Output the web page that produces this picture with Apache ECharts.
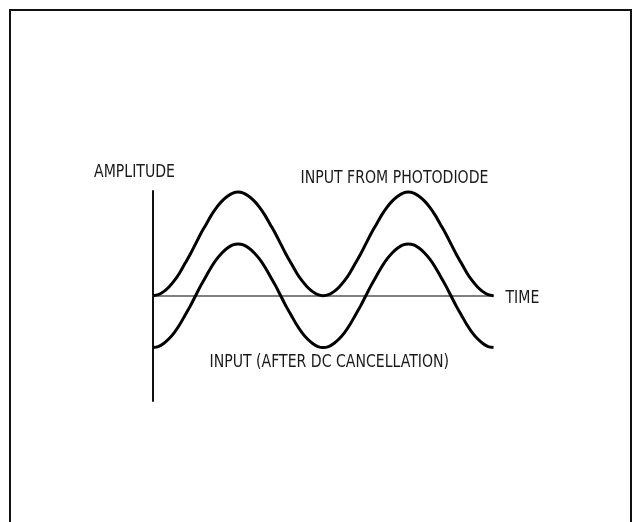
<!DOCTYPE html>
<html>
<head>
<meta charset="utf-8">
<script src="https://cdn.jsdelivr.net/npm/echarts@6/dist/echarts.min.js"></script>
<style>html,body{margin:0;padding:0;background:#fff}#c{width:633px;height:522px}</style>
</head>
<body>
<div id="c"></div>
<script>
// Time positions (quarter-period units)
var timeValues = [0,0.0625,0.125,0.1875,0.25,0.3125,0.375,0.4375,0.5,0.5625,0.625,0.6875,0.75,0.8125,0.875,0.9375,
  1,1.0625,1.125,1.1875,1.25,1.3125,1.375,1.4375,1.5,1.5625,1.625,1.6875,1.75,1.8125,1.875,1.9375,
  2,2.0625,2.125,2.1875,2.25,2.3125,2.375,2.4375,2.5,2.5625,2.625,2.6875,2.75,2.8125,2.875,2.9375,
  3,3.0625,3.125,3.1875,3.25,3.3125,3.375,3.4375,3.5,3.5625,3.625,3.6875,3.75,3.8125,3.875,3.9375,4];
// Input from photodiode
var photodiodeValues = [0,0.02,0.08,0.17,0.29,0.44,0.62,0.80,1.0,1.20,1.38,1.56,1.71,1.83,1.92,1.98,
  2.0,1.98,1.92,1.83,1.71,1.56,1.38,1.20,1.0,0.80,0.62,0.44,0.29,0.17,0.08,0.02,
  0,0.02,0.08,0.17,0.29,0.44,0.62,0.80,1.0,1.20,1.38,1.56,1.71,1.83,1.92,1.98,
  2.0,1.98,1.92,1.83,1.71,1.56,1.38,1.20,1.0,0.80,0.62,0.44,0.29,0.17,0.08,0.02,0];
// Input after DC cancellation
var cancelledValues = [-1.0,-0.98,-0.92,-0.83,-0.71,-0.56,-0.38,-0.20,0,0.20,0.38,0.56,0.71,0.83,0.92,0.98,
  1.0,0.98,0.92,0.83,0.71,0.56,0.38,0.20,0,-0.20,-0.38,-0.56,-0.71,-0.83,-0.92,-0.98,
  -1.0,-0.98,-0.92,-0.83,-0.71,-0.56,-0.38,-0.20,0,0.20,0.38,0.56,0.71,0.83,0.92,0.98,
  1.0,0.98,0.92,0.83,0.71,0.56,0.38,0.20,0,-0.20,-0.38,-0.56,-0.71,-0.83,-0.92,-0.98,-1.0];
var labels = {amplitude:'AMPLITUDE', time:'TIME', photodiode:'INPUT FROM PHOTODIODE', cancelled:'INPUT (AFTER DC CANCELLATION)'};

function pairs(xs, ys){ return xs.map(function(x,i){return [x, ys[i]];}); }

var chart = echarts.init(document.getElementById('c'), null, {renderer:'canvas'});
var font = '"Liberation Sans Narrow", "DejaVu Sans Condensed", sans-serif';
var txt = function(t, x, y){
  return {type:'text', x:x, y:y, scaleX:0.895, scaleY:1, style:{text:t, fill:'#1a1a1a', font:'17.5px ' + font, textVerticalAlign:'top'}};
};
chart.setOption({
  animation:false,
  grid:{left:153, right:139.5, top:191, bottom:121},
  xAxis:{type:'value', min:0, max:4, axisLine:{onZero:true, lineStyle:{color:'#555', width:1.5}}, axisTick:{show:false}, axisLabel:{show:false}, splitLine:{show:false}},
  yAxis:{type:'value', min:-2.03, max:2.02, axisLine:{show:true, onZero:false, lineStyle:{color:'#111', width:2}}, axisTick:{show:false}, axisLabel:{show:false}, splitLine:{show:false}},
  series:[
    {type:'line', data:pairs(timeValues, photodiodeValues), smooth:0.3, symbol:'none', lineStyle:{color:'#000', width:3}},
    {type:'line', data:pairs(timeValues, cancelledValues), smooth:0.3, symbol:'none', lineStyle:{color:'#000', width:3}}
  ],
  graphic:[
    {type:'rect', shape:{x:10, y:10, width:621, height:540}, style:{fill:'none', stroke:'#111', lineWidth:2}},
    txt(labels.amplitude, 94, 163.5),
    txt(labels.photodiode, 300.5, 169.5),
    txt(labels.time, 505.5, 289.5),
    txt(labels.cancelled, 209.5, 353.5)
  ]
});
</script>
</body>
</html>
